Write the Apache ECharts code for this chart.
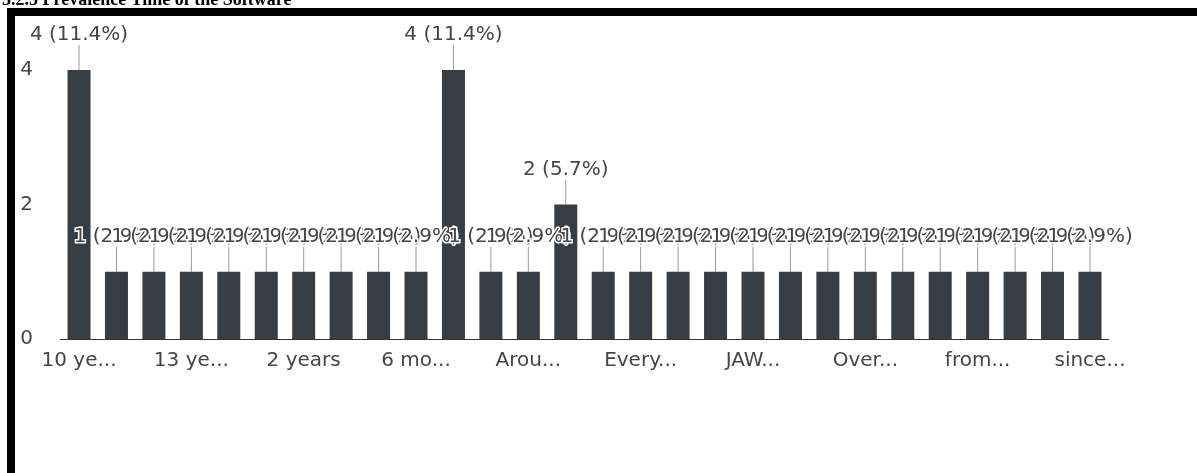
<!DOCTYPE html>
<html>
<head>
<meta charset="utf-8">
<script src="https://cdn.jsdelivr.net/npm/echarts@6/dist/echarts.min.js"></script>
<style>
html,body{margin:0;padding:0;background:#fff;}
#chart{width:1197px;height:473px;}
</style>
</head>
<body>
<div id="chart"></div>
<script>
const titleText = '3.2.5 Prevalence Time of the Software';
const categories = [
  '10 ye...', '11 ye...', '12 ye...',
  '13 ye...', '15 ye...', '2 mo...',
  '2 years', '3 years', '5 years',
  '6 mo...', '7 years', '8 years',
  'Arou...', 'Befo...', 'Dece...',
  'Every...', 'For ...', 'It ha...',
  'JAW...', 'Jus...', 'Last...',
  'Over...', 'Rece...', 'Sinc...',
  'from...', 'más...', 'one...',
  'since...'
];
const counts = [4,1,1, 1,1,1, 1,1,1, 1,4,1, 1,2,1, 1,1,1, 1,1,1, 1,1,1, 1,1,1, 1];
const yTicks = [0, 2, 4];

const total = counts.reduce((a, b) => a + b, 0);
const chart = echarts.init(document.getElementById('chart'), null, {renderer: 'canvas'});
const labelColor = '#454545';
const fontFam = '"DejaVu Sans", Arial, sans-serif';

chart.setOption({
  animation: false,
  backgroundColor: '#fff',
  graphic: [
    {type: 'rect', shape: {x: 11, y: 12, width: 1300, height: 600},
     style: {fill: 'none', stroke: '#000', lineWidth: 8}, z: 100},
    {type: 'text', x: 2, y: 9,
     style: {text: titleText, font: 'bold 18px "Liberation Serif", "Times New Roman", serif',
             fill: '#000', verticalAlign: 'bottom'}, z: 100}
  ],
  grid: {left: 60.3, right: 1197 - 1108.7, top: 70, bottom: 473 - 339},
  xAxis: {
    type: 'category',
    data: categories,
    axisLine: {lineStyle: {color: '#333', width: 1}},
    axisTick: {show: false},
    axisLabel: {interval: 2, color: labelColor, fontSize: 20, fontFamily: fontFam, margin: 12}
  },
  yAxis: {
    type: 'value',
    min: yTicks[0], max: yTicks[yTicks.length - 1], interval: 2,
    splitLine: {show: false},
    axisLine: {show: false},
    axisTick: {show: false},
    axisLabel: {color: labelColor, fontSize: 20, fontFamily: fontFam, align: 'left', margin: 40}
  },
  series: [
    {
      type: 'bar',
      data: counts,
      barWidth: 23,
      itemStyle: {color: '#363d45'},
      label: {
        show: true,
        position: 'top',
        distance: 25,
        color: labelColor,
        fontSize: 20,
        fontFamily: fontFam,
        textBorderColor: '#fff',
        textBorderWidth: 3,
        formatter: p => p.value + ' (' + (p.value / total * 100).toFixed(1) + '%)'
      }
    },
    {
      type: 'custom',
      data: counts.map((v, i) => [i, v]),
      renderItem: (params, api) => {
        const pt = api.coord([api.value(0), api.value(1)]);
        return {
          type: 'line',
          shape: {x1: pt[0], y1: pt[1], x2: pt[0], y2: pt[1] - 25},
          style: {stroke: '#999', lineWidth: 1}
        };
      },
      silent: true,
      z: 1
    }
  ]
});
</script>
</body>
</html>
